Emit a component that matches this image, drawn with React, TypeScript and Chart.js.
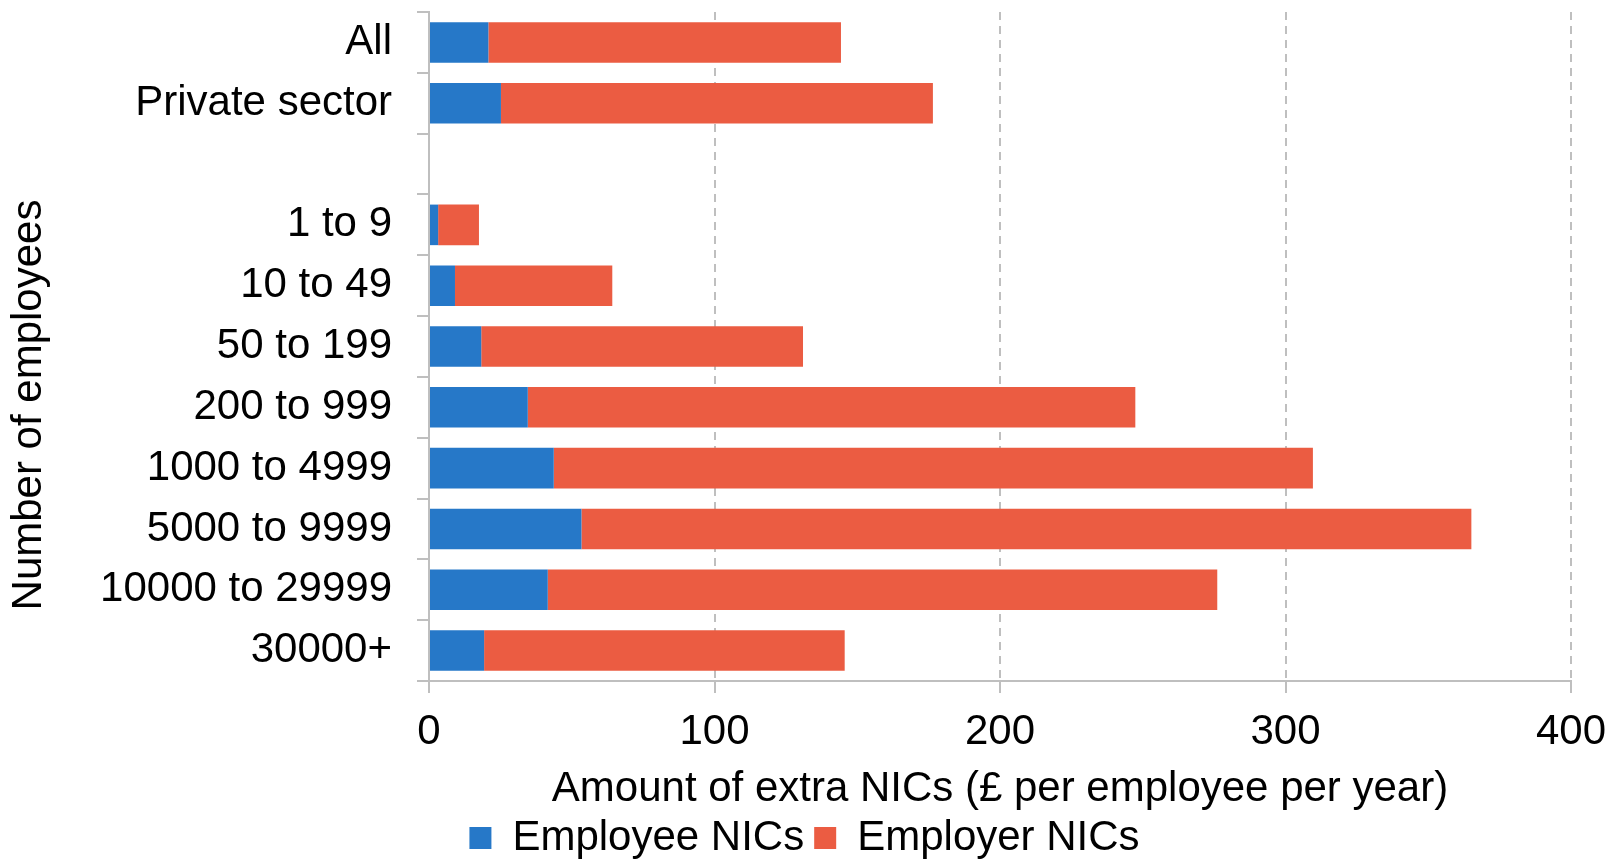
import React, { useEffect, useRef } from "react";
import { Chart, registerables } from "chart.js";

Chart.register(...registerables);

const categories = [
  "All",
  "Private sector",
  "",
  "1 to 9",
  "10 to 49",
  "50 to 199",
  "200 to 999",
  "1000 to 4999",
  "5000 to 9999",
  "10000 to 29999",
  "30000+",
];

const employeeNICs = [20.8, 25.2, null, 3.2, 9.1, 18.3, 34.6, 43.7, 53.4, 41.6, 19.3];
const employerNICs = [123.5, 151.3, null, 14.3, 55.1, 112.7, 212.8, 265.9, 311.7, 234.5, 126.3];

const seriesNames = ["Employee NICs", "Employer NICs"];
const xTitle = "Amount of extra NICs (£ per employee per year)";
const yTitle = "Number of employees";
const xMin = 0;
const xMax = 400;
const xStep = 100;

const FONT = '"Liberation Sans", Arial, Helvetica, sans-serif';
const GRID = "#bfbfbf";

const yTitlePlugin = {
  id: "yTitleCustom",
  afterDraw(chart: any) {
    const { ctx } = chart;
    ctx.save();
    ctx.translate(29, 405);
    ctx.rotate(-Math.PI / 2);
    ctx.font = `42px ${FONT}`;
    ctx.fillStyle = "#000";
    ctx.textAlign = "center";
    ctx.textBaseline = "middle";
    ctx.fillText(yTitle, 0, 0);
    ctx.restore();
  },
};

export default function App() {
  const canvasRef = useRef<HTMLCanvasElement | null>(null);

  useEffect(() => {
    if (!canvasRef.current) return;
    Chart.defaults.font.family = FONT;
    Chart.defaults.color = "#000";
    const chart = new Chart(canvasRef.current, {
      type: "bar",
      data: {
        labels: categories,
        datasets: [
          {
            label: seriesNames[0],
            data: employeeNICs,
            backgroundColor: "#2678C8",
            borderWidth: 0,
            barPercentage: 0.667,
            categoryPercentage: 1,
          },
          {
            label: seriesNames[1],
            data: employerNICs,
            backgroundColor: "#EB5C42",
            borderWidth: 0,
            barPercentage: 0.667,
            categoryPercentage: 1,
          },
        ],
      },
      options: {
        indexAxis: "y",
        responsive: false,
        animation: false,
        layout: { padding: { top: 12, right: 0, bottom: -10, left: 0 } },
        plugins: {
          tooltip: { enabled: false },
          legend: {
            position: "bottom",
            labels: {
              boxWidth: 22,
              boxHeight: 22,
              padding: 10,
              color: "#000",
              font: { size: 42 },
            },
          },
        },
        scales: {
          x: {
            stacked: true,
            min: xMin,
            max: xMax,
            ticks: {
              stepSize: xStep,
              padding: 18,
              color: "#000",
              font: { size: 42, lineHeight: 1 },
            },
            grid: {
              color: GRID,
              lineWidth: 2,
              drawTicks: true,
              tickLength: 12,
              tickColor: GRID,
              tickWidth: 2,
            },
            border: { display: true, color: GRID, width: 2, dash: [8, 6] },
            title: {
              display: true,
              text: xTitle,
              color: "#000",
              font: { size: 42, lineHeight: 1 },
              padding: { top: 0, bottom: -3 },
            },
            afterFit: (s: any) => {
              s.height = 126;
              s.paddingRight = 38;
              s.paddingLeft = 0;
            },
          },
          y: {
            stacked: true,
            grid: {
              offset: true,
              drawOnChartArea: false,
              drawTicks: true,
              tickLength: 12,
              color: GRID,
              lineWidth: 2,
              tickColor: GRID,
              tickWidth: 2,
            },
            border: { display: true, color: GRID, width: 2 },
            ticks: {
              autoSkip: false,
              padding: 25,
              color: "#000",
              font: { size: 42 },
            },
            afterFit: (s: any) => {
              s.width = 429;
              s.paddingTop = 0;
              s.paddingBottom = 0;
            },
          },
        },
      },
      plugins: [yTitlePlugin],
    } as any);
    return () => chart.destroy();
  }, []);

  return (
    <div style={{ position: "absolute", left: 0, top: 0, width: 1609, height: 859, background: "#fff" }}>
      <canvas ref={canvasRef} width={1609} height={859} style={{ display: "block" }} />
    </div>
  );
}
